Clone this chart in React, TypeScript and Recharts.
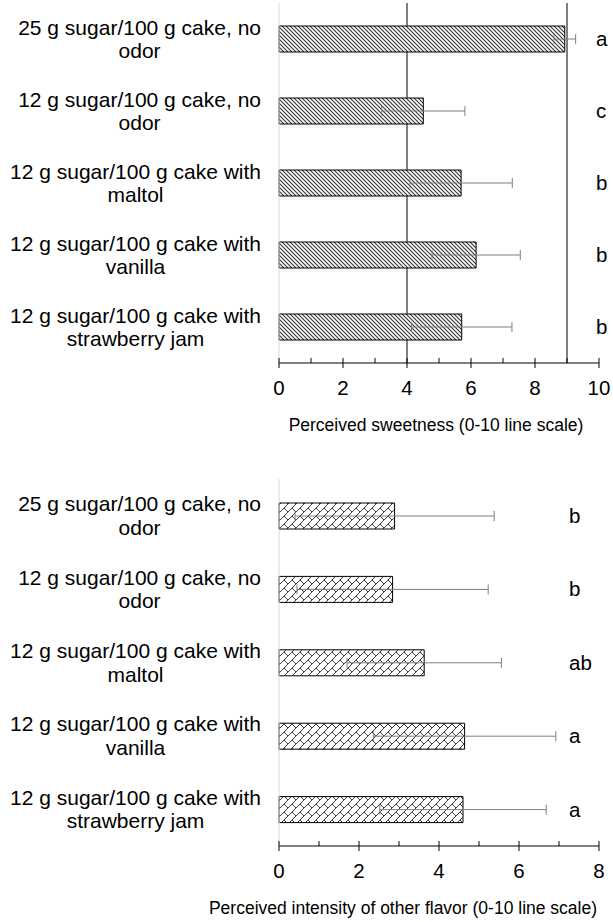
import { BarChart, Bar, XAxis, YAxis, ErrorBar, ReferenceLine, Label } from "recharts";

const FONT = '"Liberation Sans", Arial, sans-serif';

const conditions = [
  "25 g sugar/100 g cake, no\nodor",
  "12 g sugar/100 g cake, no\nodor",
  "12 g sugar/100 g cake with\nmaltol",
  "12 g sugar/100 g cake with\nvanilla",
  "12 g sugar/100 g cake with\nstrawberry jam",
];

// perceived sweetness (mean, sd, significance letter)
const sweetness = [8.93, 4.51, 5.69, 6.16, 5.71];
const sweetnessSd = [0.34, 1.3, 1.6, 1.38, 1.57];
const sweetnessLetters = ["a", "c", "b", "b", "b"];

// perceived intensity of other flavor
const otherFlavor = [2.89, 2.84, 3.63, 4.64, 4.6];
const otherFlavorSd = [2.49, 2.39, 1.93, 2.28, 2.08];
const otherFlavorLetters = ["b", "b", "ab", "a", "a"];

const sweetTicks = [0, 1, 2, 3, 4, 5, 6, 7, 8, 9, 10];
const flavorTicks = [0, 1, 2, 3, 4, 5, 6, 7, 8];
const sweetRefLines = [4, 9];

const sweetData = conditions.map((c, i) => ({
  condition: c,
  value: sweetness[i],
  sd: sweetnessSd[i],
  letter: sweetnessLetters[i],
}));

const flavorData = conditions.map((c, i) => ({
  condition: c,
  value: otherFlavor[i],
  sd: otherFlavorSd[i],
  letter: otherFlavorLetters[i],
}));

const XTick = (props: any) => {
  const { x, y, payload } = props;
  const major = payload.value % 2 === 0;
  return (
    <g>
      <line x1={x} x2={x} y1={y - 5} y2={major ? y + 5 : y} stroke="#000" strokeWidth={1} />
      {major && (
        <text x={x} y={y + 32} textAnchor="middle" fontSize={20.5} fill="#000" fontFamily={FONT}>
          {payload.value}
        </text>
      )}
    </g>
  );
};

const ConditionTick = (props: any) => {
  const { x, y, payload } = props;
  return (
    <foreignObject x={x - 279} y={y - 30} width={261} height={60}>
      <div style={{ height: 60, display: "flex", alignItems: "center", justifyContent: "flex-end" }}>
        <span
          style={{
            display: "inline-block",
            textAlign: "center",
            whiteSpace: "pre-line",
            fontSize: 21,
            lineHeight: "23.5px",
            color: "#000",
            fontFamily: FONT,
          }}
        >
          {payload.value}
        </span>
      </div>
    </foreignObject>
  );
};

const letterTick = (dx: number) => (props: any) => (
  <text x={props.x + dx} y={props.y} dy="0.36em" textAnchor="start" fontSize={20.5} fill="#000" fontFamily={FONT}>
    {props.payload.value}
  </text>
);

const App = () => {
  return (
    <div style={{ position: "absolute", left: 0, top: 0, width: 613, height: 922, background: "#fff" }}>
      <BarChart
        width={613}
        height={440}
        data={sweetData}
        layout="vertical"
        margin={{ top: 3, right: 0, bottom: 0, left: 0 }}
        barSize={26}
      >
        <defs>
          <pattern id="hatchDown" width="4" height="4" patternUnits="userSpaceOnUse">
            <rect width="4" height="4" fill="#fff" />
            <path d="M-1,-1 L5,5 M-1,3 L1,5 M3,-1 L5,1" stroke="#333" strokeWidth={1.1} />
          </pattern>
        </defs>
        <XAxis
          type="number"
          domain={[0, 10]}
          ticks={sweetTicks}
          interval={0}
          height={77}
          axisLine={{ stroke: "#000" }}
          tickLine={false}
          tickSize={0}
          tickMargin={0}
          tick={XTick}
        >
          <Label
            value="Perceived sweetness (0-10 line scale)"
            position="insideBottom"
            offset={9}
            dx={-3}
            fontSize={17.5}
            fill="#000"
            fontFamily={FONT}
          />
        </XAxis>
        <YAxis
          type="category"
          dataKey="condition"
          width={279}
          interval={0}
          axisLine={{ stroke: "#d9d9d9" }}
          tickLine={false}
          tickSize={0}
          tickMargin={0}
          tick={ConditionTick}
        />
        <YAxis
          yAxisId="letters"
          orientation="right"
          type="category"
          dataKey="letter"
          width={14}
          interval={0}
          axisLine={false}
          tickLine={false}
          tickSize={0}
          tickMargin={0}
          tick={letterTick(-3)}
        />
        {sweetRefLines.map((v) => (
          <ReferenceLine key={v} x={v} stroke="#000" strokeWidth={1} zIndex={-50} />
        ))}
        <Bar dataKey="value" fill="url(#hatchDown)" stroke="#000" strokeWidth={1} isAnimationActive={false}>
          <ErrorBar dataKey="sd" direction="x" width={5} stroke="#7f7f7f" strokeWidth={1} />
        </Bar>
      </BarChart>

      <BarChart
        width={613}
        height={482}
        data={flavorData}
        layout="vertical"
        margin={{ top: 39, right: 0, bottom: 0, left: 0 }}
        barSize={26}
      >
        <defs>
          <pattern id="brick" width="8" height="8" patternUnits="userSpaceOnUse">
            <rect width="8" height="8" fill="#fff" />
            <path d="M-1,9 L9,-1 M4,4 L9,9 M-1,-1 L0,0" stroke="#3a3a3a" strokeWidth={1} fill="none" />
          </pattern>
        </defs>
        <XAxis
          type="number"
          domain={[0, 8]}
          ticks={flavorTicks}
          interval={0}
          height={76}
          axisLine={{ stroke: "#000" }}
          tickLine={false}
          tickSize={0}
          tickMargin={0}
          tick={XTick}
        >
          <Label
            value="Perceived intensity of other flavor (0-10 line scale)"
            position="insideBottom"
            offset={8}
            dx={-36}
            fontSize={17.5}
            fill="#000"
            fontFamily={FONT}
          />
        </XAxis>
        <YAxis
          type="category"
          dataKey="condition"
          width={279}
          interval={0}
          axisLine={{ stroke: "#d9d9d9" }}
          tickLine={false}
          tickSize={0}
          tickMargin={0}
          tick={ConditionTick}
        />
        <YAxis
          yAxisId="letters"
          orientation="right"
          type="category"
          dataKey="letter"
          width={14}
          interval={0}
          axisLine={false}
          tickLine={false}
          tickSize={0}
          tickMargin={0}
          tick={letterTick(-30)}
        />
        <Bar dataKey="value" fill="url(#brick)" stroke="#000" strokeWidth={1} isAnimationActive={false}>
          <ErrorBar dataKey="sd" direction="x" width={5} stroke="#7f7f7f" strokeWidth={1} />
        </Bar>
      </BarChart>
    </div>
  );
};

export default App;
